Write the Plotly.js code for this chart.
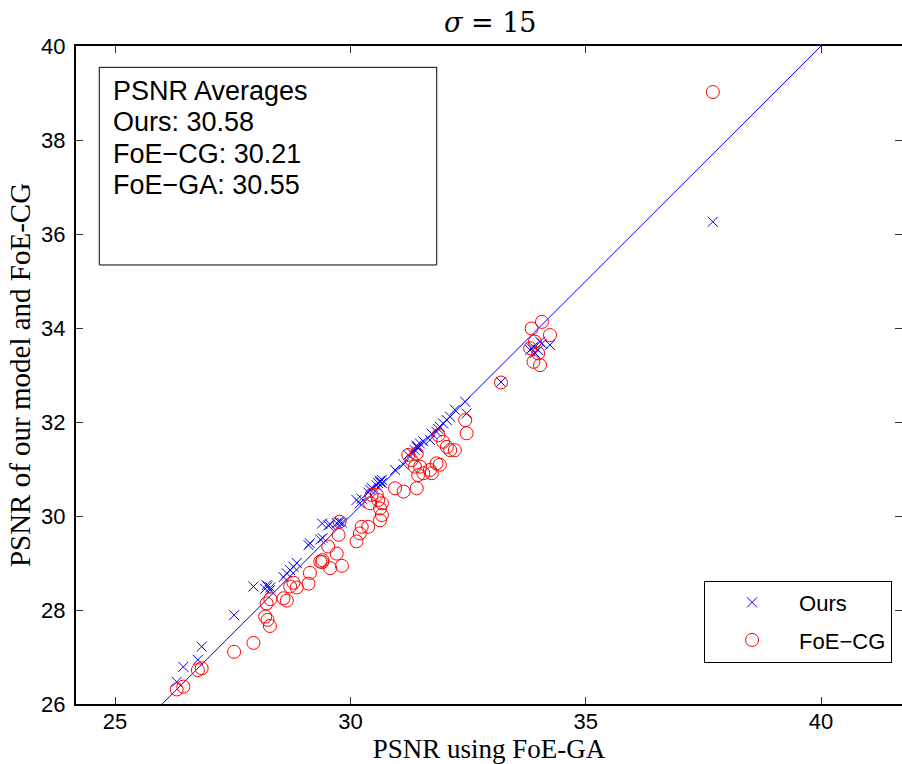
<!DOCTYPE html>
<html>
<head>
<meta charset="utf-8">
<script src="https://cdn.plot.ly/plotly-3.0.1.min.js"></script>
<style>html,body{margin:0;padding:0;background:#fff;}#chart{width:902px;height:764px;}</style>
</head>
<body>
<div id="chart"></div>
<script>
// PSNR using FoE-GA (x), shared by both series
const gaPSNR = [26.31,26.45,26.76,26.84,27.53,27.94,28.19,28.24,28.29,28.22,28.30,28.58,28.65,28.72,28.79,28.86,
  29.11,29.14,29.36,29.41,29.57,29.82,29.53,29.71,29.75,29.77,29.40,
  30.13,30.20,30.24,30.38,30.42,30.45,30.56,30.59,30.63,30.67,30.63,30.67,
  30.95,31.13,31.41,31.23,31.30,31.41,31.37,31.44,31.48,31.55,31.69,31.73,31.83,31.90,31.87,31.97,32.05,32.12,32.22,32.44,32.47,
  33.20,33.82,33.85,33.89,33.92,33.99,34.03,34.07,34.24,37.70];
// PSNR of our model
const oursPSNR = [26.47,26.79,26.94,27.22,27.89,28.50,28.45,28.50,28.42,28.53,28.48,28.70,28.78,28.85,28.92,29.00,
  29.38,29.42,29.50,29.53,29.82,29.86,29.80,29.85,29.88,29.87,29.84,
  30.34,30.27,30.37,30.50,30.56,30.60,30.65,30.70,30.75,30.77,30.72,30.70,
  30.98,31.10,31.47,31.30,31.34,31.50,31.40,31.45,31.54,31.59,31.62,31.75,31.79,31.90,31.85,31.97,32.04,32.11,32.26,32.43,32.18,
  32.85,33.53,33.57,33.60,33.47,33.53,33.71,33.67,33.64,36.26];
// PSNR of FoE-CG
const cgPSNR = [26.31,26.37,26.72,26.76,27.11,27.30,27.86,27.79,27.66,28.14,28.23,28.25,28.20,28.50,28.58,28.48,
  28.56,28.79,29.03,29.06,28.89,28.94,29.35,29.20,29.60,29.88,29.02,
  29.46,29.63,29.77,29.77,30.27,30.45,30.45,30.34,29.91,30.02,30.16,30.27,
  30.59,30.52,30.59,31.30,31.19,31.33,31.05,30.87,31.05,30.91,30.98,30.91,31.12,31.09,31.72,31.58,31.47,31.40,31.40,32.04,31.76,
  32.84,33.57,33.99,33.28,33.71,33.46,33.21,34.13,33.85,39.02];
// identity reference line y = x
const diagLine = [26, 40];
const seriesNames = ["Ours", "FoE\u2212CG"];
const xTicks = [25, 30, 35, 40];
const yTicks = [26, 28, 30, 32, 34, 36, 38, 40];
const avgLines = ["PSNR Averages", "Ours: 30.58", "FoE\u2212CG: 30.21", "FoE\u2212GA: 30.55"];

const traces = [
  {x: diagLine, y: diagLine, mode: "lines", line: {color: "#0000ff", width: 1}, showlegend: false, hoverinfo: "skip"},
  {x: gaPSNR, y: oursPSNR, mode: "markers", name: seriesNames[0], legendgroup: "a",
   marker: {symbol: "x-thin-open", size: 10, color: "#0000ff", line: {color: "#0000ff", width: 1}}},
  {x: gaPSNR, y: cgPSNR, mode: "markers", name: seriesNames[1], legendgroup: "b",
   marker: {symbol: "circle-open", size: 13, color: "#ff0000", line: {color: "#ff0000", width: 1}}}
];

const tickFont = {family: "Liberation Sans, Arial, sans-serif", size: 22, color: "#000"};
const annots = avgLines.map((t, i) => ({
  xref: "paper", yref: "paper", x: 0.0425, y: (704 - (91 + i * 31.5)) / 658,
  xanchor: "left", yanchor: "middle", showarrow: false, text: t,
  font: {family: "Liberation Sans, Arial, sans-serif", size: 27, color: "#000"}
}));

const layout = {
  width: 902, height: 764,
  margin: {l: 76, r: 0, t: 46, b: 60},
  paper_bgcolor: "#fff", plot_bgcolor: "#fff",
  showlegend: true,
  title: {text: "<i>\u03c3</i> = 15", x: 0.5435, xanchor: "center", y: 0.971, yanchor: "middle",
    font: {family: "DejaVu Serif, Liberation Serif, serif", size: 27, color: "#000"}},
  xaxis: {range: [24.17, 41.72], tickvals: xTicks, ticktext: xTicks.map(String),
    ticks: "inside", ticklen: 7, tickwidth: 1, tickcolor: "#333", showline: true, linewidth: 2, linecolor: "#000",
    mirror: "ticks", showgrid: false, zeroline: false, tickfont: tickFont, ticklabelstandoff: -3,
    title: {text: "PSNR using FoE-GA", standoff: 3, font: {family: "Liberation Serif, Times New Roman, serif", size: 27, color: "#000"}}},
  yaxis: {range: [26, 40], tickvals: yTicks, ticktext: yTicks.map(String),
    ticks: "inside", ticklen: 7, tickwidth: 1, tickcolor: "#333", showline: true, linewidth: 2, linecolor: "#000",
    mirror: "ticks", showgrid: false, zeroline: false, tickfont: tickFont, ticklabelstandoff: 4,
    title: {text: "PSNR of our model and FoE-CG", standoff: 2, font: {family: "Liberation Serif, Times New Roman, serif", size: 29, color: "#000"}}},
  legend: {x: 0.988, y: 0.063, xanchor: "right", yanchor: "bottom", bgcolor: "#fff",
    bordercolor: "#000", borderwidth: 1, traceorder: "grouped", tracegroupgap: 6, itemwidth: 84,
    font: {family: "Liberation Sans, Arial, sans-serif", size: 22, color: "#000"}},
  shapes: [{type: "rect", xref: "paper", yref: "paper", x0: 0.0282, x1: 0.4367, y0: 0.6672, y1: 0.9676,
    line: {color: "#000", width: 1}, fillcolor: "rgba(0,0,0,0)"}],
  annotations: annots
};

Plotly.newPlot("chart", traces, layout, {displayModeBar: false, staticPlot: true});
</script>
</body>
</html>
